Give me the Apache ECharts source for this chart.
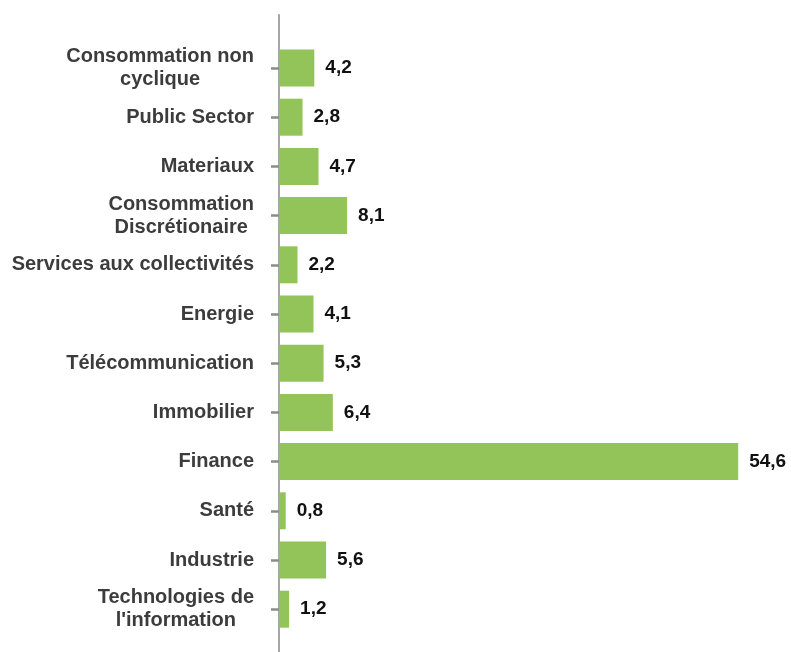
<!DOCTYPE html>
<html>
<head>
<meta charset="utf-8">
<script src="https://cdn.jsdelivr.net/npm/echarts@6/dist/echarts.min.js"></script>
<style>
  html, body { margin: 0; padding: 0; background: #fff; }
  #chart { width: 791px; height: 652px; }
</style>
</head>
<body>
<div id="chart"></div>
<script>
const sectors = [
  'Consommation non\ncyclique',
  'Public Sector',
  'Materiaux',
  'Consommation\nDiscrétionaire',
  'Services aux collectivités',
  'Energie',
  'Télécommunication',
  'Immobilier',
  'Finance',
  'Santé',
  'Industrie',
  "Technologies de\nl'information"
];
const weights = [4.2, 2.8, 4.7, 8.1, 2.2, 4.1, 5.3, 6.4, 54.6, 0.8, 5.6, 1.2];

const chart = echarts.init(document.getElementById('chart'));

const option = {
  animation: false,
  textStyle: { fontFamily: '"Liberation Sans", Arial, sans-serif' },
  grid: [
    // bars
    { left: 279, top: 43.4, height: 590.4, width: 504.6 },
    // full-height axis line
    { left: 279, top: 15, bottom: 0, width: 504.6 }
  ],
  xAxis: [
    { gridIndex: 0, type: 'value', min: 0, max: 60, show: false },
    { gridIndex: 1, type: 'value', min: 0, max: 60, show: false }
  ],
  yAxis: [
    {
      gridIndex: 0,
      type: 'category',
      inverse: true,
      data: sectors,
      axisLine: { show: false },
      axisTick: {
        show: true,
        alignWithLabel: true,
        length: 8,
        lineStyle: { color: '#8c8c8c', width: 2.5 }
      },
      axisLabel: {
        margin: 25,
        lineHeight: 23,
        formatter: function (v) {
          return v.split('\n').map(s => '{c|' + s + '}').join('\n');
        },
        rich: {
          c: {
            align: 'center',
            fontSize: 20,
            fontWeight: 'bold',
            color: '#3c3c3c',
            lineHeight: 23,
            fontFamily: '"Liberation Sans", Arial, sans-serif'
          }
        }
      }
    },
    {
      gridIndex: 1,
      type: 'value',
      min: 0,
      max: 1,
      axisLine: { show: true, lineStyle: { color: '#a6a6a6', width: 2 } },
      axisTick: { show: false },
      axisLabel: { show: false },
      splitLine: { show: false }
    }
  ],
  series: [
    {
      type: 'bar',
      xAxisIndex: 0,
      yAxisIndex: 0,
      data: weights,
      barWidth: 37,
      itemStyle: { color: '#92c45a' },
      label: {
        show: true,
        position: 'right',
        distance: 11,
        fontSize: 19,
        fontWeight: 'bold',
        color: '#111',
        formatter: p => String(p.value).replace('.', ',')
      }
    }
  ]
};

chart.setOption(option);
</script>
</body>
</html>
